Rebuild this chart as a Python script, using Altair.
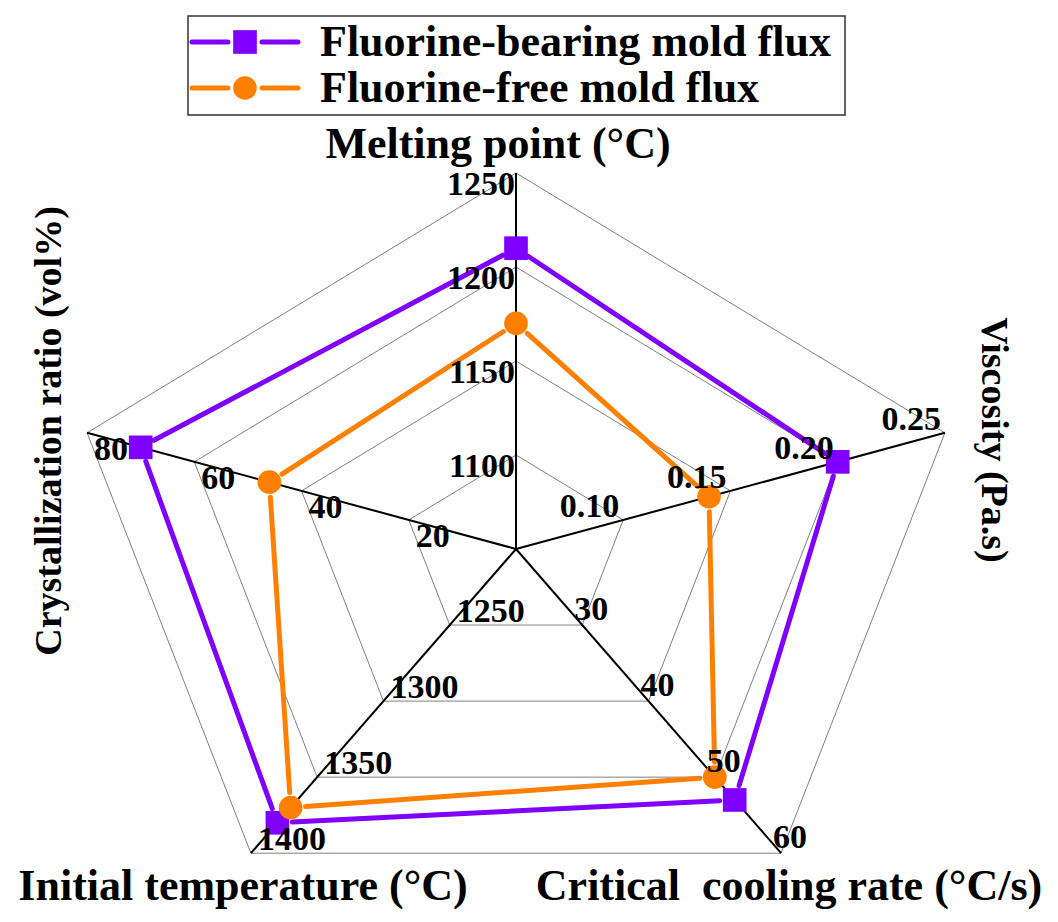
import math
import altair as alt
import pandas as pd

# ---------------- data ----------------
axis_names = ["Melting point (°C)", "Viscosity (Pa.s)", "Critical\u00a0 cooling rate (°C/s)",
              "Initial temperature (°C)", "Crystallization ratio (vol%)"]
axis_min = [1050, 0.05, 20, 1200, 0]
axis_max = [1250, 0.25, 60, 1400, 80]
tick_labels = [
    ["1100", "1150", "1200", "1250"],
    ["0.10", "0.15", "0.20", "0.25"],
    ["30", "40", "50", "60"],
    ["1250", "1300", "1350", "1400"],
    ["20", "40", "60", "80"],
]
series_names = ["Fluorine-bearing mold flux", "Fluorine-free mold flux"]
bearing_values = [1210, 0.20, 53, 1380, 70]
free_values = [1170, 0.14, 50, 1370, 46]

# ---------------- layout / style ----------------
W, H = 1040, 904
CX, CY, RX, RY = 516, 549, 451, 376
ANGLES = [90, 18, -54, -126, 162]
COLORS = ["#8000FF", "#FF8000"]
SHAPES = ["square", "circle"]
FONT = "Liberation Serif"
LEGEND_SIZE = 44
TICK_SIZE = 34
GAP = 15
# tick label offsets (dx, dy) and alignment per axis
TICK_OFF = [(-1, 22, "right"), (-4, -3, "right"), (-8, -5, "left"), (7, -3, "left"), (7, 27, "left")]
# title anchor (x, y, angle, font size)
TITLE_POS = [(498, 158, 0, 44), (982, 440, 90, 38), (789, 900, 0, 44), (243, 900, 0, 44), (61, 431, 270, 38)]
LEG_BOX = (188, 16, 845, 115)
LEG_ROW_Y = [42, 88]
LEG_LINE = [(192, 228), (262, 298)]
LEG_MARK_X = 245
LEG_TEXT_X = 320
LEG_TEXT_DY = 14


def pos(i, frac):
    a = math.radians(ANGLES[i])
    return CX + RX * frac * math.cos(a), CY - RY * frac * math.sin(a)


def frac_of(i, v):
    return (v - axis_min[i]) / (axis_max[i] - axis_min[i])


X = lambda f="x": alt.X(f"{f}:Q", scale=alt.Scale(domain=[8, 8 + W], nice=False, zero=False), axis=None)
Y = lambda f="y": alt.Y(f"{f}:Q", scale=alt.Scale(domain=[8, 8 + H], reverse=True, nice=False, zero=False), axis=None)

# rings
ring_rows = []
for k in range(1, 5):
    for i in range(5):
        x1, y1 = pos(i, k / 4)
        x2, y2 = pos((i + 1) % 5, k / 4)
        ring_rows.append(dict(x=x1, y=y1, x2=x2, y2=y2))
rings = alt.Chart(pd.DataFrame(ring_rows)).mark_rule(color="#808080", strokeWidth=1).encode(
    x=X(), y=Y(), x2="x2:Q", y2="y2:Q")

# spokes
spoke_rows = []
for i in range(5):
    x2, y2 = pos(i, 1)
    spoke_rows.append(dict(x=CX, y=CY, x2=x2, y2=y2))
spokes = alt.Chart(pd.DataFrame(spoke_rows)).mark_rule(color="black", strokeWidth=2).encode(
    x=X(), y=Y(), x2="x2:Q", y2="y2:Q")

# data lines (shortened segments) and markers
seg_rows, pt_rows = [], []
for s, vals in zip(series_names, [bearing_values, free_values]):
    pts = [pos(i, frac_of(i, v)) for i, v in enumerate(vals)]
    for i, (px, py) in enumerate(pts):
        pt_rows.append(dict(series=s, axis=axis_names[i], value=vals[i], x=px, y=py))
    for i in range(5):
        (ax, ay), (bx, by) = pts[i], pts[(i + 1) % 5]
        d = math.hypot(bx - ax, by - ay)
        ux, uy = (bx - ax) / d, (by - ay) / d
        seg_rows.append(dict(series=s, x=ax + ux * GAP, y=ay + uy * GAP,
                             x2=bx - ux * GAP, y2=by - uy * GAP))

color_scale = alt.Scale(domain=series_names, range=COLORS)
shape_scale = alt.Scale(domain=series_names, range=SHAPES)

lines = alt.Chart(pd.DataFrame(seg_rows)).mark_rule(strokeWidth=5, strokeCap="round").encode(
    x=X(), y=Y(), x2="x2:Q", y2="y2:Q",
    color=alt.Color("series:N", scale=color_scale, legend=None))

markers = alt.Chart(pd.DataFrame(pt_rows)).mark_point(filled=True, opacity=1, size=560).encode(
    x=X(), y=Y(),
    color=alt.Color("series:N", scale=color_scale, legend=None),
    shape=alt.Shape("series:N", scale=shape_scale, legend=None))

# tick labels
tick_rows = []
for i, labs in enumerate(tick_labels):
    dx, dy, al = TICK_OFF[i]
    for k, lab in enumerate(labs):
        vx, vy = pos(i, (k + 1) / 4)
        tick_rows.append(dict(label=lab, x=vx + dx, y=vy + dy, align=al))
tick_df = pd.DataFrame(tick_rows)
tick_layers = []
for al in ["left", "right"]:
    tick_layers.append(
        alt.Chart(tick_df[tick_df["align"] == al]).mark_text(
            align=al, baseline="alphabetic", font=FONT, fontSize=TICK_SIZE, fontWeight="bold", color="black"
        ).encode(x=X(), y=Y(), text="label:N"))

# axis titles
title_df = pd.DataFrame([dict(label=n, x=p[0], y=p[1], angle=p[2], fs=p[3])
                         for n, p in zip(axis_names, TITLE_POS)])
titles = alt.Chart(title_df).mark_text(
    align="center", baseline="alphabetic", font=FONT, fontWeight="bold", color="black"
).encode(x=X(), y=Y(), text="label:N", angle=alt.Angle("angle:Q", scale=None),
         size=alt.Size("fs:Q", scale=None, legend=None))

# legend
box = alt.Chart(pd.DataFrame([dict(x=LEG_BOX[0], y=LEG_BOX[1], x2=LEG_BOX[2], y2=LEG_BOX[3])])).mark_rect(
    fill="white", fillOpacity=0, stroke="#333333", strokeWidth=1.5).encode(
    x=X(), y=Y(), x2="x2:Q", y2="y2:Q")
leg_line_rows, leg_pt_rows, leg_txt_rows = [], [], []
for s, ry in zip(series_names, LEG_ROW_Y):
    for (a, b) in LEG_LINE:
        leg_line_rows.append(dict(series=s, x=a, x2=b, y=ry, y2=ry))
    leg_pt_rows.append(dict(series=s, x=LEG_MARK_X, y=ry))
    leg_txt_rows.append(dict(series=s, x=LEG_TEXT_X, y=ry + LEG_TEXT_DY))
leg_lines = alt.Chart(pd.DataFrame(leg_line_rows)).mark_rule(strokeWidth=5, strokeCap="round").encode(
    x=X(), y=Y(), x2="x2:Q", y2="y2:Q",
    color=alt.Color("series:N", scale=color_scale, legend=None))
leg_pts = alt.Chart(pd.DataFrame(leg_pt_rows)).mark_point(filled=True, opacity=1, size=560).encode(
    x=X(), y=Y(),
    color=alt.Color("series:N", scale=color_scale, legend=None),
    shape=alt.Shape("series:N", scale=shape_scale, legend=None))
leg_txt = alt.Chart(pd.DataFrame(leg_txt_rows)).mark_text(
    align="left", baseline="alphabetic", font=FONT, fontSize=LEGEND_SIZE, fontWeight="bold", color="black"
).encode(x=X(), y=Y(), text="series:N")

chart = alt.layer(
    rings, spokes, lines, markers, *tick_layers, titles, box, leg_lines, leg_pts, leg_txt
).properties(
    width=W, height=H, padding=0, autosize=alt.AutoSizeParams(type="none")
).configure_view(stroke=None)

chart.save("out.html", embed_options={"renderer": "svg", "actions": False})
